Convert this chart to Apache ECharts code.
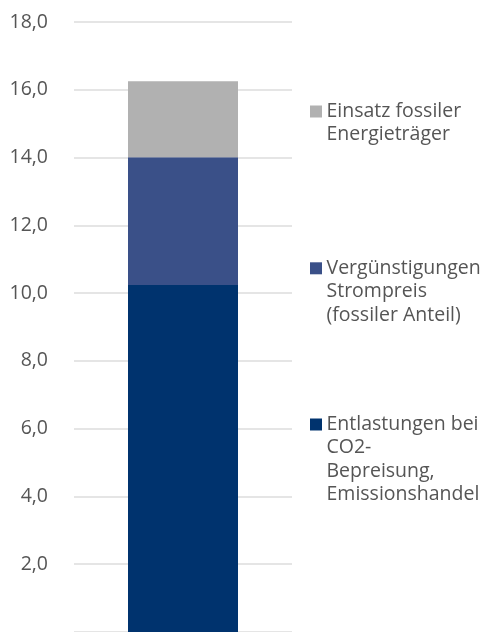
<!DOCTYPE html>
<html>
<head>
<meta charset="utf-8">
<script src="https://cdn.jsdelivr.net/npm/echarts@6/dist/echarts.min.js"></script>
<style>
  html, body { margin: 0; padding: 0; background: #fff; }
  #main { width: 494px; height: 632px; }
</style>
</head>
<body>
<div id="main"></div>
<script>
// Daten
const categories = ["Gesamt"];
const seriesNames = [
  "Entlastungen bei\nCO2-\nBepreisung,\nEmissionshandel",
  "Vergünstigungen\nStrompreis\n(fossiler Anteil)",
  "Einsatz fossiler\nEnergieträger"
];
const entlastungen = [10.24];
const verguenstigungen = [3.77];
const einsatzFossil = [2.24];
const yTicks = [0, 2, 4, 6, 8, 10, 12, 14, 16, 18];

const colors = ["#00336e", "#3a5088", "#b1b1b1"];
const values = [entlastungen, verguenstigungen, einsatzFossil];
const fontFamily = "'Open Sans', sans-serif";

// Legende rechts (Markierung an der ersten Zeile ausgerichtet)
const legendTop = [418.5, 262.3, 105.5];
const legendGraphics = seriesNames.map((name, i) => ({
  type: "group",
  left: 310,
  top: legendTop[i] - 6,
  children: [
    { type: "rect", shape: { x: 0, y: 0, width: 12, height: 12 }, style: { fill: colors[i] } },
    {
      type: "text",
      x: 16.5,
      y: -6,
      style: {
        text: name,
        fill: "#555",
        font: "19.5px " + fontFamily,
        lineHeight: 23.5,
        verticalAlign: "top"
      }
    }
  ]
}));

const chart = echarts.init(document.getElementById("main"));
chart.setOption({
  animation: false,
  grid: { left: 74, right: 202, top: 22, bottom: -2, containLabel: false },
  xAxis: {
    type: "category",
    data: categories,
    axisLine: { show: false },
    axisTick: { show: false },
    axisLabel: { show: false }
  },
  yAxis: {
    type: "value",
    min: yTicks[0],
    max: yTicks[yTicks.length - 1],
    interval: 2,
    axisLine: { show: false },
    axisTick: { show: false },
    splitLine: { lineStyle: { color: "#dcdcdc", width: 1.5 } },
    axisLabel: {
      margin: 26,
      color: "#555",
      fontFamily: fontFamily,
      fontSize: 19.5,
      formatter: v => (v === 0 ? "" : v.toFixed(1).replace(".", ","))
    }
  },
  graphic: legendGraphics,
  series: seriesNames.map((name, i) => ({
    name: name,
    type: "bar",
    stack: "total",
    barWidth: 110,
    data: values[i],
    itemStyle: { color: colors[i] }
  }))
});
</script>
</body>
</html>
